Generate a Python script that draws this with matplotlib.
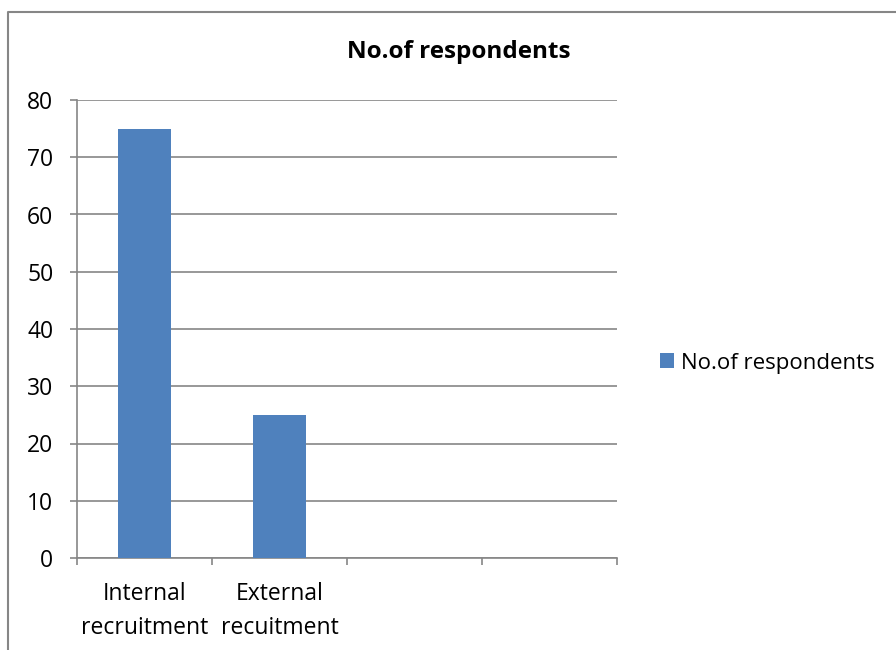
import matplotlib.pyplot as plt
from matplotlib.lines import Line2D

# data
categories = ["Internal\nrecruitment", "External\nrecuitment", "", ""]
respondents = [75, 25, None, None]
series_name = "No.of respondents"
y_ticks = [0, 10, 20, 30, 40, 50, 60, 70, 80]

plt.rcParams['font.family'] = ['Open Sans', 'DejaVu Sans']
bar_color = '#4f81bd'
grid_color = '#868686'

W, H = 896, 650
fig = plt.figure(figsize=(W / 100, H / 100), dpi=100)
ax = fig.add_axes([77 / W, 1 - 558 / H, 540 / W, 458 / H])

xs = list(range(len(categories)))
vals = [v if v is not None else 0 for v in respondents]
bars = ax.bar(xs, vals, width=0.39, color=bar_color, label=series_name, zorder=3)

ax.set_xlim(-0.5, len(categories) - 0.5)
ax.set_ylim(0, 80)
ax.set_yticks(y_ticks)
ax.tick_params(axis='y', labelsize=16.5, length=5, color=grid_color, width=1.2, pad=12)
ax.yaxis.grid(True, color=grid_color, linewidth=1.2, zorder=0)

# category labels between ticks placed at slot boundaries
ax.set_xticks([x - 0.5 for x in xs] + [len(categories) - 0.5])
ax.set_xticklabels([])
ax.set_xticks(xs, minor=True)
ax.set_xticklabels(categories, minor=True, fontsize=16.5, linespacing=1.6)
ax.tick_params(axis='x', which='major', length=5, color=grid_color, width=1.2)
ax.tick_params(axis='x', which='minor', length=0, pad=17)

for side in ['top', 'right']:
    ax.spines[side].set_visible(False)
for side in ['left', 'bottom']:
    ax.spines[side].set_color(grid_color)
    ax.spines[side].set_linewidth(1.2)

fig.text(459 / W, 1 - 52 / H, series_name, ha='center', va='center',
         fontsize=17.5, fontweight='bold')

fig.legend(handles=[bars], labels=[series_name], loc='center left',
           bbox_to_anchor=(640 / W, 1 - 363 / H), frameon=False, fontsize=16,
           handlelength=0.65, handleheight=0.65, handletextpad=0.3)

# chart area border
fig.add_artist(Line2D([8 / W, 8 / W, 1.0], [0.0, 1 - 12 / H, 1 - 12 / H],
                      transform=fig.transFigure, color=grid_color, linewidth=1.5))

fig.savefig('out.png', dpi=100)
